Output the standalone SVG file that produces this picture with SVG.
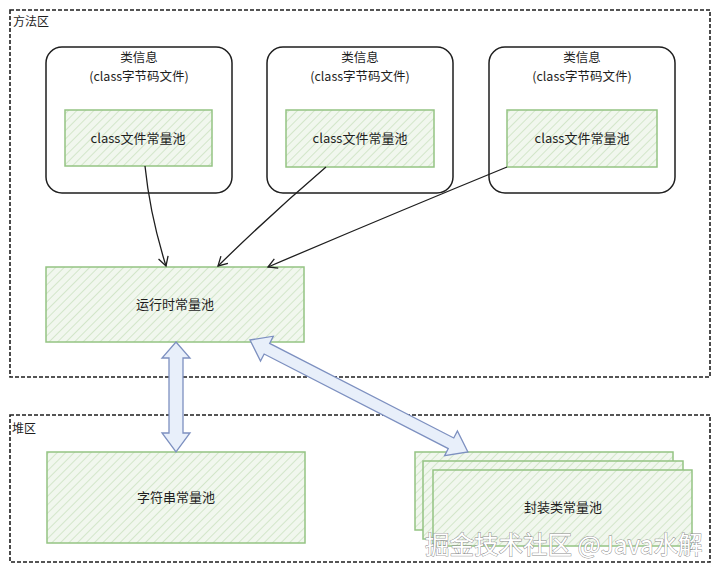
<svg xmlns="http://www.w3.org/2000/svg" width="720" height="572" viewBox="0 0 720 572">
<defs>
<pattern id="hatch" patternUnits="userSpaceOnUse" width="6" height="6" patternTransform="rotate(45)">
<rect width="6" height="6" fill="#f1f7ee"/>
<line x1="0" y1="0" x2="0" y2="6" stroke="#d3e6ca" stroke-width="2"/>
</pattern>
<marker id="ah" markerWidth="12" markerHeight="12" refX="10" refY="6" orient="auto" markerUnits="userSpaceOnUse">
<path d="M1,1 L10,6 L1,11" fill="none" stroke="#1e1e1e" stroke-width="1.3"/>
</marker>
</defs>
<style>
.zone{fill:none;stroke:#1e1e1e;stroke-width:1.6;stroke-dasharray:4 2}
.cls{fill:#fff;stroke:#1e1e1e;stroke-width:1.5}
.pool{fill:url(#hatch);stroke:#94c483;stroke-width:1.5}
.t{font-family:"Noto Sans CJK SC","Noto Sans",sans-serif;font-size:13px;fill:#1e1e1e;text-anchor:middle}
.h{font-size:12.5px}
.lbl{font-family:"Noto Sans CJK SC",sans-serif;font-size:12px;fill:#1e1e1e}
.line{fill:none;stroke:#1e1e1e;stroke-width:1.3;marker-end:url(#ah)}
.big{fill:#e8effa;stroke:#7d90c0;stroke-width:1.3}
.wm{font-family:"Noto Sans CJK SC",sans-serif;font-size:24.5px;fill:#fff;stroke:#8a8a8a;stroke-width:0.9;paint-order:stroke}
</style>
<g id="method-area">
<rect class="zone" x="10" y="10" width="700" height="367"/>
<text class="lbl" x="13" y="26">方法区</text>
</g>
<g id="heap-area">
<rect class="zone" x="10" y="415" width="700" height="147"/>
<text class="lbl" x="12" y="433">堆区</text>
</g>
<g id="class1">
<rect class="cls" x="46" y="47" width="186" height="146" rx="16"/>
<text class="t h" x="139" y="62">类信息</text>
<text class="t h" x="139" y="81">(class字节码文件)</text>
<rect class="pool" x="65" y="110" width="147" height="56"/>
<text class="t" x="138" y="143">class文件常量池</text>
</g>
<g id="class2">
<rect class="cls" x="267" y="47" width="186" height="146" rx="16"/>
<text class="t h" x="360" y="62">类信息</text>
<text class="t h" x="360" y="81">(class字节码文件)</text>
<rect class="pool" x="286" y="110" width="148" height="57"/>
<text class="t" x="360" y="143">class文件常量池</text>
</g>
<g id="class3">
<rect class="cls" x="489" y="47" width="186" height="146" rx="16"/>
<text class="t h" x="582" y="62">类信息</text>
<text class="t h" x="582" y="81">(class字节码文件)</text>
<rect class="pool" x="507" y="110" width="150" height="57"/>
<text class="t" x="582" y="143">class文件常量池</text>
</g>
<g id="runtime-pool">
<rect class="pool" x="46" y="267" width="258" height="75"/>
<text class="t" x="175" y="309">运行时常量池</text>
</g>
<g id="string-pool">
<rect class="pool" x="47" y="452" width="258" height="91"/>
<text class="t" x="176" y="502">字符串常量池</text>
</g>
<g id="wrapper-pool">
<rect class="pool" x="415" y="452" width="258" height="78"/>
<rect class="pool" x="423" y="461" width="260" height="78"/>
<rect class="pool" x="433" y="470" width="259" height="76"/>
<text class="t" x="563" y="512">封装类常量池</text>
</g>
<g id="connectors">
<path class="line" d="M145,166 Q150,215 166,266"/>
<path class="line" d="M326,167 Q270,215 218,266"/>
<path class="line" d="M507,167 Q390,215 268,267"/>
<polygon class="big" points="176,342 190,358 183,358 183,433 190,433 176,452 162,433 169,433 169,358 162,358"/>
<polygon class="big" transform="translate(250,340) rotate(27.2)" points="0,0 19,-14 19,-6 226,-6 226,-14 245,0 226,14 226,6 19,6 19,14"/>
</g>
<text class="wm" x="425" y="554">掘金技术社区 @Java水解</text>
</svg>
